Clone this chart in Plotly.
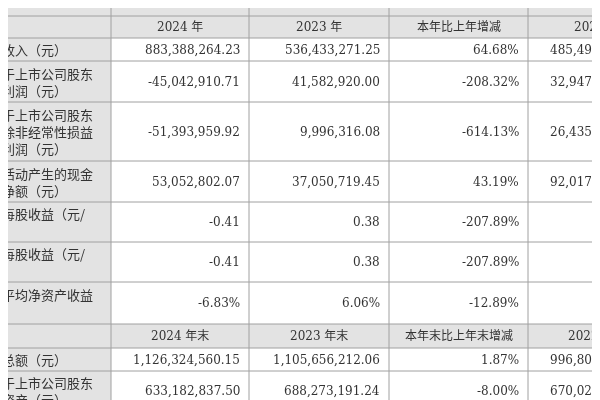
import plotly.graph_objects as go

labels = ["营业收入（元）", "归属于上市公司股东<br>的净利润（元）",
          "归属于上市公司股东<br>的扣除非经常性损益<br>的净利润（元）",
          "经营活动产生的现金<br>流量净额（元）", "基本每股收益（元/<br>股）",
          "稀释每股收益（元/<br>股）", "加权平均净资产收益<br>率",
          "资产总额（元）", "归属于上市公司股东<br>的净资产（元）"]
header1 = ["2024 年", "2023 年", "本年比上年增减", "2022 年"]
header2 = ["2024 年末", "2023 年末", "本年末比上年末增减", "2022 年末"]
v2024 = ["883,388,264.23", "-45,042,910.71", "-51,393,959.92", "53,052,802.07",
         "-0.41", "-0.41", "-6.83%", "1,126,324,560.15", "633,182,837.50"]
v2023 = ["536,433,271.25", "41,582,920.00", "9,996,316.08", "37,050,719.45",
         "0.38", "0.38", "6.06%", "1,105,656,212.06", "688,273,191.24"]
chg = ["64.68%", "-208.32%", "-614.13%", "43.19%", "-207.89%", "-207.89%",
       "-12.89%", "1.87%", "-8.00%"]
v2022 = ["485,497,", "32,947,", "26,435,", "92,017,", "", "", "", "996,801,", "670,024,"]

# layout (pixel units, page has an 8px body margin so the axes start at -8)
OFF = 8
row_edges = [0, 22, 45, 86, 145, 186, 226, 266, 308, 332, 355, 395]
col_edges = [0, 95, 233, 373, 512, 650]
header_rows = [0, 8]
data_rows = [1, 2, 3, 4, 5, 6, 7, 9, 10]
GRAY = "#e3e3e3"
LINE = "#a0a0a0"
NUMFONT = dict(family="DejaVu Serif, Noto Sans CJK SC", size=12, color="#333")
CJKFONT = dict(family="Noto Sans CJK SC", size=13, color="#333")

fig = go.Figure()
fig.add_trace(go.Scatter(x=[0, 590], y=[0, 390], mode="markers", opacity=0, hoverinfo="skip"))
shapes, ann = [], []
shapes.append(dict(type="rect", x0=-OFF, x1=col_edges[1], y0=-OFF, y1=420, fillcolor=GRAY, line_width=0, layer="below"))
for r in header_rows:
    y0 = row_edges[r] if r else -OFF
    shapes.append(dict(type="rect", x0=-OFF, x1=650, y0=y0, y1=row_edges[r+1],
                       fillcolor=GRAY, line_width=0, layer="below"))
for y in row_edges:
    shapes.append(dict(type="line", x0=-OFF, x1=650, y0=y, y1=y, line=dict(color=LINE, width=1)))
for x in col_edges[1:]:
    shapes.append(dict(type="line", x0=x, x1=x, y0=-OFF, y1=420, line=dict(color=LINE, width=1)))

XMAX = 600 - OFF
for hdr, r in zip([header1, header2], header_rows):
    yc = (row_edges[r] + row_edges[r+1]) / 2
    for j, t in enumerate(hdr):
        xc = (col_edges[j+1] + col_edges[j+2]) / 2
        ann.append(dict(x=min(xc, XMAX), y=yc, text=t, showarrow=False, font=NUMFONT,
                        xanchor="center", yanchor="middle",
                        xshift=(xc - XMAX) if xc > XMAX else 0))

for i, r in enumerate(data_rows):
    yc = (row_edges[r] + row_edges[r+1]) / 2
    ann.append(dict(x=-OFF, y=yc, text=labels[i], showarrow=False, font=CJKFONT, align="left",
                    xanchor="left", yanchor="middle", xshift=-42 + OFF))
    for j, col in enumerate([v2024, v2023, chg]):
        ann.append(dict(x=col_edges[j+2] - 7, y=yc, text=col[i], showarrow=False, font=NUMFONT,
                        xanchor="right", yanchor="middle"))
    if v2022[i]:
        ann.append(dict(x=XMAX, y=yc, text=v2022[i], showarrow=False, font=NUMFONT,
                        xanchor="left", yanchor="middle", xshift=-68 + OFF))

fig.update_layout(width=600, height=400, margin=dict(l=0, r=0, t=0, b=0),
                  plot_bgcolor="white", paper_bgcolor="white", showlegend=False,
                  xaxis=dict(range=[-OFF, XMAX], visible=False, fixedrange=True),
                  yaxis=dict(range=[400 - OFF, -OFF], visible=False, fixedrange=True),
                  shapes=shapes, annotations=ann)
fig.write_html("out.html")
